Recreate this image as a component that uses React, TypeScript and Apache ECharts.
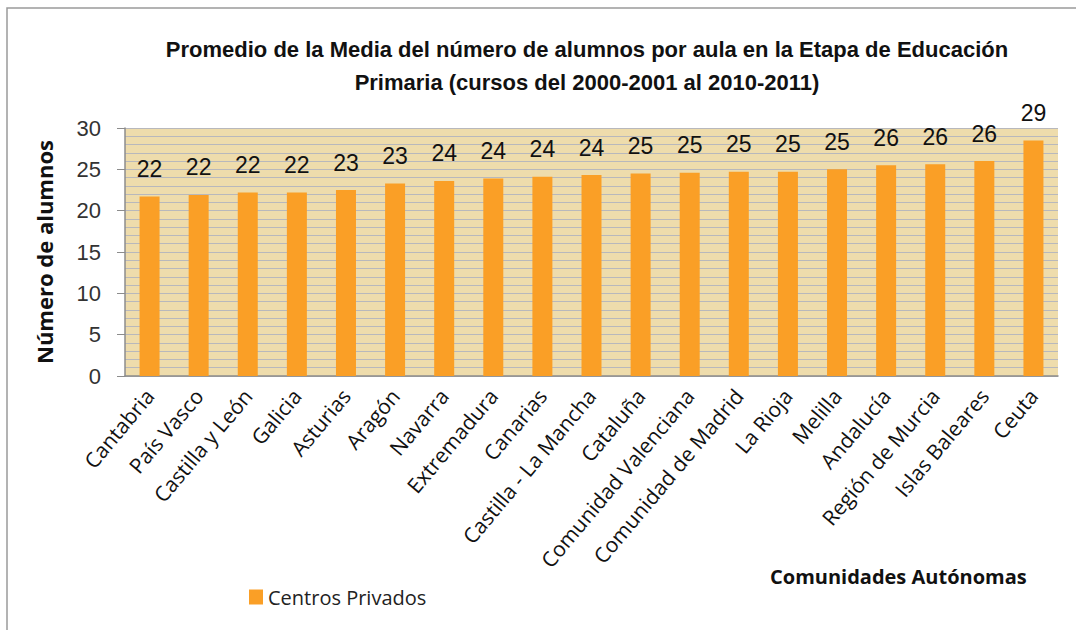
import React, { useEffect, useRef } from "react";
import * as echarts from "echarts";

const categories = [
  "Cantabria", "País Vasco", "Castilla y León", "Galicia", "Asturias", "Aragón",
  "Navarra", "Extremadura", "Canarias", "Castilla - La Mancha", "Cataluña",
  "Comunidad Valenciana", "Comunidad de Madrid", "La Rioja", "Melilla",
  "Andalucía", "Región de Murcia", "Islas Baleares", "Ceuta",
];
const valuesPrivados = [
  21.7, 21.9, 22.2, 22.2, 22.5, 23.3, 23.6, 23.9, 24.1, 24.3, 24.5,
  24.6, 24.7, 24.7, 25.0, 25.5, 25.6, 26.0, 28.5,
];
const seriesName = "Centros Privados";
const titleText = "Promedio de la Media del número de alumnos por aula en la Etapa de Educación\nPrimaria (cursos del 2000-2001 al 2010-2011)";
const yAxisTitle = "Número de alumnos";
const xAxisTitle = "Comunidades Autónomas";

const SANS = "'Liberation Sans', Arial, sans-serif";
const OPEN = "'Open Sans', sans-serif";

export default function App() {
  const ref = useRef<HTMLDivElement>(null);
  useEffect(() => {
    if (!ref.current) return;
    const chart = echarts.init(ref.current, undefined, { renderer: "svg" });
    chart.setOption({
      animation: false,
      backgroundColor: "#ffffff",
      title: {
        text: titleText,
        left: 582,
        top: 28,
        textAlign: "center",
        textStyle: {
          fontFamily: SANS,
          fontWeight: "bold",
          fontSize: 22,
          lineHeight: 33,
          color: "#111",
        },
      },
      legend: {
        data: [seriesName],
        left: 244,
        top: 582,
        icon: "rect",
        itemWidth: 14,
        itemHeight: 15,
        itemGap: 6,
        textStyle: { fontFamily: OPEN, fontSize: 20, color: "#222" },
      },
      grid: { left: 125, right: 18, top: 128, bottom: 254, containLabel: false },
      xAxis: {
        type: "category",
        data: categories,
        axisLine: { show: true, lineStyle: { color: "#8c8c8c", width: 1.5 } },
        axisTick: { show: false },
        axisLabel: {
          rotate: 50,
          interval: 0,
          margin: 16,
          fontFamily: OPEN,
          fontSize: 21,
          color: "#111",
        },
      },
      yAxis: [
        {
          type: "value",
          min: 0,
          max: 30,
          interval: 5,
          name: yAxisTitle,
          nameLocation: "middle",
          nameGap: 70,
          nameTextStyle: {
            fontFamily: OPEN,
            fontWeight: "bold",
            fontSize: 22,
            color: "#111",
          },
          axisLine: { show: true, lineStyle: { color: "#8c8c8c", width: 1.5 } },
          axisTick: { show: true, length: 8, lineStyle: { color: "#8c8c8c" } },
          axisLabel: { fontFamily: SANS, fontSize: 22, color: "#333", margin: 24 },
          splitLine: { show: true, lineStyle: { color: "#b8b8bc", width: 1.2 } },
        },
        {
          type: "value",
          min: 0,
          max: 30,
          interval: 1,
          position: "left",
          axisLine: { show: false },
          axisTick: { show: false },
          axisLabel: { show: false },
          splitLine: { show: true, lineStyle: { color: "#b8b8bc", width: 1.2 } },
        },
      ],
      graphic: [
        {
          type: "rect",
          shape: { x: 7, y: 8, width: 1100, height: 660 },
          style: { fill: "none", stroke: "#9a9a9a", lineWidth: 1.5 },
          z: -5,
        },
        {
          type: "rect",
          shape: { x: 125, y: 128, width: 933, height: 248 },
          style: { fill: "#eedcac" },
          z: -1,
        },
        {
          type: "text",
          left: 770,
          top: 566,
          style: {
            text: xAxisTitle,
            fontFamily: OPEN,
            fontWeight: "bold",
            fontSize: 20,
            fill: "#111",
          },
        },
      ],
      series: [
        {
          name: seriesName,
          type: "bar",
          data: valuesPrivados,
          barWidth: 20,
          itemStyle: { color: "#fa9f26" },
          label: {
            show: true,
            position: "top",
            distance: 16,
            formatter: (p: any) => String(Math.round(p.value)),
            fontFamily: SANS,
            fontSize: 23,
            color: "#111",
          },
        },
      ],
    });
    return () => chart.dispose();
  }, []);
  return (
    <div
      ref={ref}
      style={{ position: "fixed", left: 0, top: 0, width: 1076, height: 630 }}
    />
  );
}
